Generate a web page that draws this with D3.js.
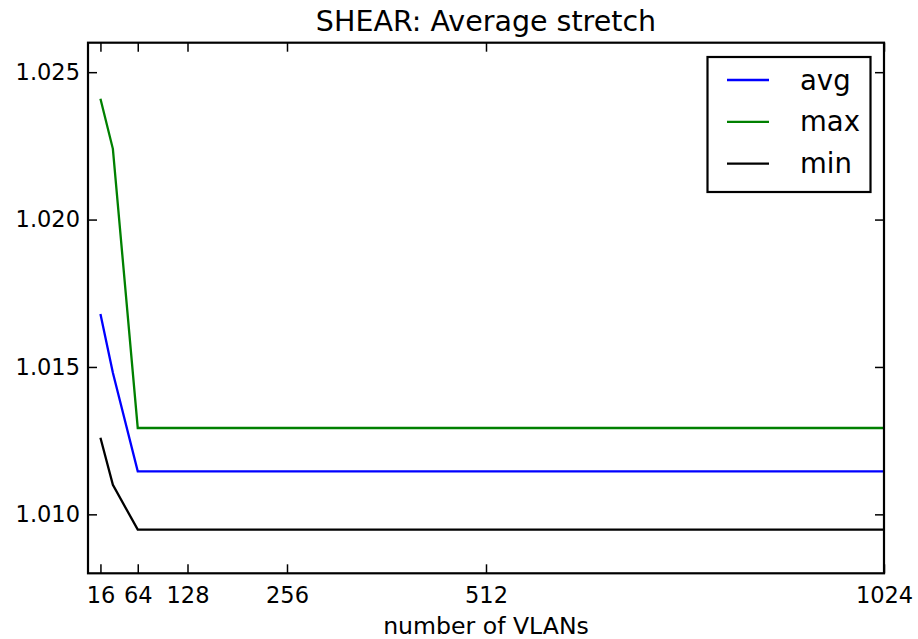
<!DOCTYPE html>
<html><head><meta charset="utf-8">
<script src="https://cdn.jsdelivr.net/npm/d3@7"></script>
<style>body{margin:0;background:#fff;} text{font-family:"DejaVu Sans",sans-serif;}</style>
</head><body>
<svg id="c" width="918" height="639"></svg>
<script>
const vlans = [16, 32, 64, 128, 256, 512, 1024];
const avgVals = [1.0168, 1.0148, 1.01146, 1.01146, 1.01146, 1.01146, 1.01146];
const maxVals = [1.0241, 1.0224, 1.01293, 1.01293, 1.01293, 1.01293, 1.01293];
const minVals = [1.0126, 1.0110, 1.00948, 1.00948, 1.00948, 1.00948, 1.00948];
const xTicks = [16, 64, 128, 256, 512, 1024];
const yTicks = [1.010, 1.015, 1.020, 1.025];
const seriesNames = ["avg", "max", "min"];
const seriesColors = ["#0000ff", "#008000", "#000000"];

const series = [avgVals, maxVals, minVals].map((v, i) => ({name: seriesNames[i], color: seriesColors[i], vals: v}));

const L = 88, R = 884, T = 42.7, B = 573.3;
const svg = d3.select("#c");
const x = d3.scaleLinear().domain([0, 1024]).range([L, R]);
const y = d3.scaleLinear().domain([1.008, 1.026]).range([B, T]);

const line = d3.line().x((d, i) => x(vlans[i])).y(d => y(d));
const g = svg.append("g");
series.forEach(s => {
  g.append("path").attr("d", line(s.vals)).attr("fill", "none")
   .attr("stroke", s.color).attr("stroke-width", 2.3);
});

const tl = 9;
const xb = d3.axisBottom(x).tickValues(xTicks).tickSize(-tl).tickPadding(14).tickFormat(d3.format("d"));
const gx = svg.append("g").attr("transform", `translate(0,${B})`).call(xb);
const xt = d3.axisTop(x).tickValues(xTicks).tickSize(-tl).tickFormat("");
const gxt = svg.append("g").attr("transform", `translate(0,${T})`).call(xt);
const yl = d3.axisLeft(y).tickValues(yTicks).tickSize(-tl).tickPadding(8).tickFormat(d3.format(".3f"));
const gy = svg.append("g").attr("transform", `translate(${L},0)`).call(yl);
const yr = d3.axisRight(y).tickValues(yTicks).tickSize(-tl).tickFormat("");
const gyr = svg.append("g").attr("transform", `translate(${R},0)`).call(yr);
[gx, gxt, gy, gyr].forEach(a => {
  a.select(".domain").remove();
  a.selectAll(".tick line").attr("stroke", "#000").attr("stroke-width", 1.5);
  a.selectAll(".tick text").attr("font-size", 22.5).attr("fill", "#000").style("font-family", "DejaVu Sans");
});
gx.selectAll(".tick text").attr("dy", "0.71em");

svg.append("rect").attr("x", L).attr("y", T).attr("width", R - L).attr("height", B - T)
  .attr("fill", "none").attr("stroke", "#000").attr("stroke-width", 2.2);

svg.append("text").attr("x", (L + R) / 2).attr("y", 31).attr("text-anchor", "middle")
  .attr("font-size", 28.5).text("SHEAR: Average stretch");
svg.append("text").attr("x", (L + R) / 2).attr("y", 634).attr("text-anchor", "middle")
  .attr("font-size", 23.6).text("number of VLANs");

const lg = svg.append("g");
lg.append("rect").attr("x", 707.5).attr("y", 57).attr("width", 163).attr("height", 135)
  .attr("fill", "#fff").attr("stroke", "#000").attr("stroke-width", 2.2);
series.forEach((s, i) => {
  const yy = 80 + i * 41.8;
  lg.append("line").attr("x1", 727).attr("x2", 769).attr("y1", yy).attr("y2", yy)
    .attr("stroke", s.color).attr("stroke-width", 2.3);
  lg.append("text").attr("x", 800).attr("y", yy).attr("dy", "0.35em").attr("font-size", 27.5).text(s.name);
});
</script>
</body></html>
